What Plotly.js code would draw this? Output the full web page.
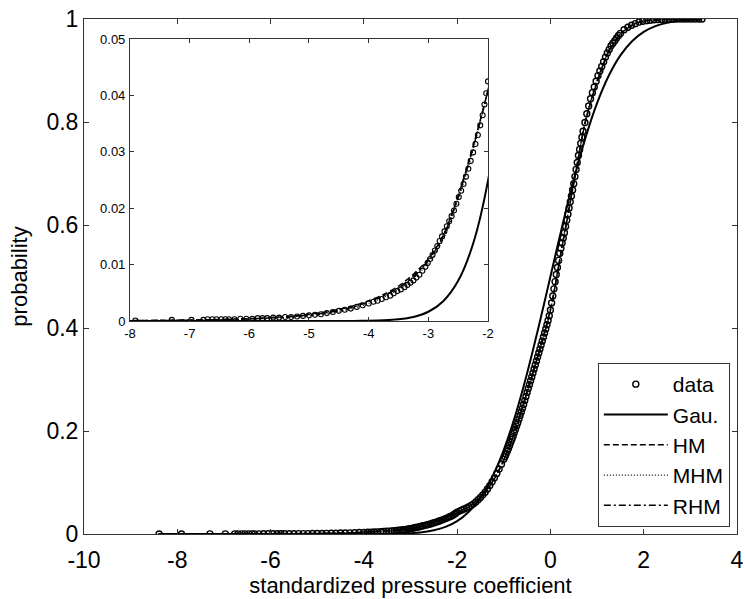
<!DOCTYPE html>
<html>
<head>
<meta charset="utf-8">
<script src="https://cdn.plot.ly/plotly-3.0.1.min.js"></script>
<style>html,body{margin:0;padding:0;background:#fff;}#chart{width:745px;height:599px;}</style>
</head>
<body>
<div id="chart"></div>
<script>
// ---- data ----
const dataX = [-8.39,-7.91,-7.30,-6.97,-6.77,-6.70,-6.62,-6.55,-6.47,-6.40,-6.34,-6.25,-6.15,-6.05,-5.95,-5.86,-5.78,-5.70,-5.60,-5.50,-5.40,-5.30,-5.20,-5.10,-5.00,-4.90,-4.80,-4.70,-4.60,-4.50,-4.40,-4.30,-4.20,-4.10,-4.00,-3.92,-3.85,-3.78,-3.71,-3.64,-3.58,-3.52,-3.46,-3.40,-3.35,-3.30,-3.25,-3.20,-3.15,-3.10,-3.05,-3.01,-2.97,-2.93,-2.89,-2.85,-2.81,-2.77,-2.73,-2.69,-2.65,-2.61,-2.57,-2.53,-2.49,-2.45,-2.41,-2.37,-2.33,-2.29,-2.25,-2.21,-2.17,-2.13,-2.09,-2.06,-2.03,-2.00,
-1.95,-1.90,-1.85,-1.80,-1.75,-1.70,-1.65,-1.60,-1.55,-1.50,-1.45,-1.40,-1.35,-1.30,-1.25,-1.20,-1.15,-1.10,-1.05,-1.00,
-0.975,-0.95,-0.925,-0.90,-0.875,-0.85,-0.825,-0.80,-0.775,-0.75,-0.725,-0.70,-0.675,-0.65,-0.625,-0.60,-0.575,-0.55,-0.525,-0.50,-0.475,-0.45,-0.425,-0.40,-0.375,-0.35,-0.325,-0.30,-0.275,-0.25,-0.225,-0.20,-0.175,-0.15,-0.125,-0.10,-0.075,-0.05,-0.025,0.00,0.025,0.05,0.075,0.10,0.125,0.15,0.175,0.20,0.225,0.25,0.275,0.30,0.325,0.35,0.375,0.40,0.425,0.45,0.475,0.50,0.525,0.55,0.575,0.60,0.625,0.65,0.675,0.70,
0.74,0.78,0.82,0.86,0.90,0.94,0.98,1.02,1.06,1.10,1.14,1.18,1.22,1.26,1.30,1.34,1.38,1.42,1.46,1.50,
1.58,1.66,1.74,1.82,1.90,1.98,2.06,2.14,2.22,2.30,2.38,2.46,2.54,2.62,2.70,2.78,2.86,2.94,3.02,3.10,3.18,3.25];
const dataY = [0.0001,0.0001,0.0002,0.0002,0.0002,0.0003,0.0003,0.0003,0.0003,0.0003,0.0003,0.0003,0.0004,0.0004,0.0004,0.0005,0.0005,0.0005,0.0006,0.0006,0.0007,0.0007,0.0008,0.0009,0.0010,0.0011,0.0012,0.0014,0.0016,0.0018,0.0020,0.0022,0.0025,0.0028,0.0031,0.0034,0.0036,0.0039,0.0042,0.0045,0.0049,0.0053,0.0056,0.0060,0.0064,0.0068,0.0072,0.0077,0.0082,0.0089,0.0096,0.0103,0.0110,0.0117,0.0125,0.0133,0.0142,0.0150,0.0159,0.0168,0.0177,0.0186,0.0196,0.0208,0.0220,0.0231,0.0243,0.0256,0.0270,0.0284,0.0299,0.0314,0.0330,0.0347,0.0365,0.0384,0.0404,0.0425,
0.0445,0.0465,0.0485,0.0505,0.053,0.0555,0.0585,0.062,0.0665,0.071,0.076,0.081,0.0875,0.094,0.1015,0.109,0.1175,0.126,0.1355,0.145,
0.150,0.155,0.1605,0.166,0.172,0.178,0.184,0.190,0.1965,0.203,0.2095,0.216,0.223,0.230,0.237,0.244,0.2515,0.259,0.267,0.275,0.2825,0.290,0.2975,0.305,0.3128,0.3205,0.3283,0.336,0.3438,0.3515,0.3593,0.367,0.3748,0.3825,0.3903,0.398,0.4063,0.4145,0.4238,0.435,0.4485,0.462,0.476,0.490,0.5038,0.5175,0.5313,0.545,0.555,0.565,0.575,0.585,0.597,0.609,0.621,0.633,0.645,0.6565,0.668,0.680,0.694,0.708,0.7215,0.735,0.7468,0.7585,0.7703,0.782,
0.799,0.816,0.831,0.845,0.857,0.868,0.879,0.890,0.899,0.908,0.917,0.926,0.934,0.941,0.948,0.953,0.958,0.963,0.968,0.972,
0.979,0.984,0.988,0.991,0.994,0.9955,0.9968,0.9977,0.9984,0.9989,0.9992,0.9994,0.9996,0.9997,0.9998,0.9998,0.9999,0.9999,0.9999,1.0,1.0,1.0];

const modelX = [-8.4,-8.25,-8.0,-7.75,-7.5,-7.25,-7.0,-6.75,-6.5,-6.25,-6.0,-5.75,-5.5,-5.25,-5.0,-4.75,-4.5,-4.25,-4.0,-3.75,-3.5,-3.25,-3.0,-2.75,-2.5,-2.25,-2.0,-1.75,-1.5,-1.25,-1.0,-0.75,-0.5,-0.25,0,0.25,0.5,0.75,1.0,1.25,1.5,1.75,2.0,2.25,2.5,2.75,3.0,3.25];
const gauY = [0,0,0,0,0,0,0,0,0,0,0,0,0,0,0,0.000001,0.000005,0.000015,0.000044,0.00012,0.0003,0.00072,0.00164,0.00351,0.00712,0.0137,0.0249,0.0431,0.0707,0.1102,0.1635,0.2311,0.3121,0.4032,0.5,0.5968,0.6879,0.7689,0.8365,0.8898,0.9293,0.9569,0.9751,0.9863,0.9929,0.9965,0.9984,0.9993];
const hmY = [0.00006,0.00006,0.00008,0.0001,0.00012,0.00015,0.00018,0.00022,0.00027,0.00034,0.00043,0.00055,0.0007,0.0009,0.00118,0.00155,0.00205,0.0027,0.0036,0.0047,0.0062,0.0083,0.011,0.0152,0.0222,0.031,0.041,0.053,0.0705,0.1,0.143,0.2025,0.2755,0.352,0.436,0.557,0.68,0.8,0.877,0.936,0.97,0.988,0.996,0.9985,0.9995,0.9998,1,1];
const mhmY = [0.00003,0.00004,0.00005,0.00006,0.00008,0.0001,0.00012,0.00015,0.00019,0.00025,0.00032,0.00042,0.00055,0.00072,0.00095,0.00127,0.0017,0.0023,0.0031,0.0042,0.0056,0.0076,0.0103,0.0145,0.0215,0.0303,0.0408,0.053,0.071,0.101,0.144,0.204,0.277,0.352,0.434,0.562,0.682,0.803,0.882,0.938,0.971,0.988,0.9955,0.9985,0.9995,0.9999,1,1];
const rhmY = [0.00004,0.00005,0.00006,0.00008,0.0001,0.00012,0.00015,0.00018,0.00023,0.0003,0.00038,0.00049,0.00063,0.00082,0.00107,0.00141,0.00188,0.0025,0.0034,0.0045,0.0059,0.008,0.0107,0.015,0.022,0.0307,0.041,0.053,0.0705,0.1005,0.1435,0.2035,0.276,0.352,0.4345,0.559,0.681,0.8015,0.8785,0.9365,0.9705,0.988,0.9958,0.9985,0.9995,0.9999,1,1];

const seriesNames = ['data','Gau.','HM','MHM','RHM'];
const xTicks = [-10,-8,-6,-4,-2,0,2,4];
const xTickText = ['-10','-8','-6','-4','-2','0','2','4'];
const yTicks = [0,0.2,0.4,0.6,0.8,1];
const yTickText = ['0','0.2','0.4','0.6','0.8','1'];
const insetXTicks = [-8,-7,-6,-5,-4,-3,-2];
const insetXTickText = ['-8','-7','-6','-5','-4','-3','-2'];
const insetYTicks = [0,0.01,0.02,0.03,0.04,0.05];
const insetYTickText = ['0','0.01','0.02','0.03','0.04','0.05'];

// ---- styles ----
const FONT = 'Arial, "Liberation Sans", sans-serif';
const lineStyles = [
  {color:'#000', width:2, dash:'solid'},
  {color:'#000', width:1.5, dash:'6px,3px'},
  {color:'#000', width:1.2, dash:'1px,2px'},
  {color:'#000', width:1.5, dash:'7px,3px,2px,3px'}
];
const modelYs = [gauY, hmY, mhmY, rhmY];

const traces = [];
function addSet(xa, ya, msize, mlw, legend) {
  traces.push({x:dataX, y:dataY, xaxis:xa, yaxis:ya, type:'scatter', mode:'markers', name:seriesNames[0],
    showlegend:legend, marker:{symbol:'circle-open', size:msize, color:'#000', line:{width:mlw, color:'#000'}}});
  modelYs.forEach((ys,i)=>{
    traces.push({x:modelX, y:ys, xaxis:xa, yaxis:ya, type:'scatter', mode:'lines', name:seriesNames[i+1],
      showlegend:legend, line:Object.assign({shape:'spline', smoothing:0.8}, lineStyles[i])});
  });
}
addSet('x','y',6,1.4,true);
addSet('x2','y2',5,1.1,false);

const axBase = {showgrid:false, zeroline:false, showline:true, linecolor:'#333', linewidth:1,
  ticks:'inside', mirror:'ticks', tickcolor:'#333', tickwidth:1};

const layout = {
  width:745, height:599,
  margin:{l:84, r:8, t:19, b:65},
  paper_bgcolor:'#fff', plot_bgcolor:'#fff',
  font:{family:FONT, color:'#000'},
  xaxis: Object.assign({}, axBase, {domain:[0,1], range:[-10,4], tickvals:xTicks, ticktext:xTickText, ticklen:5,
    tickfont:{size:23, family:FONT}, ticklabelstandoff:5,
    title:{text:'standardized pressure coefficient', font:{size:22, family:FONT}, standoff:0}}),
  yaxis: Object.assign({}, axBase, {domain:[0,1], range:[0,1], tickvals:yTicks, ticktext:yTickText, ticklen:5,
    tickfont:{size:23, family:FONT},
    title:{text:'probability', font:{size:22, family:FONT}, standoff:12}}),
  xaxis2: Object.assign({}, axBase, {domain:[0.0704,0.6187], anchor:'y2', range:[-8,-2], tickvals:insetXTicks, ticktext:insetXTickText, ticklen:4,
    tickfont:{size:13, family:FONT}, ticklabelstandoff:0}),
  yaxis2: Object.assign({}, axBase, {domain:[0.4136,0.961], anchor:'x2', range:[0,0.05], tickvals:insetYTicks, ticktext:insetYTickText, ticklen:4,
    tickfont:{size:13, family:FONT}, ticklabelstandoff:1}),
  legend:{x:0.989, xanchor:'right', y:0.0136, yanchor:'bottom', bgcolor:'#fff', bordercolor:'#333', borderwidth:1,
    font:{size:21, family:FONT}, itemwidth:64, tracegroupgap:0},
  showlegend:true
};

Plotly.newPlot('chart', traces, layout, {displayModeBar:false, staticPlot:true});
</script>
</body>
</html>
